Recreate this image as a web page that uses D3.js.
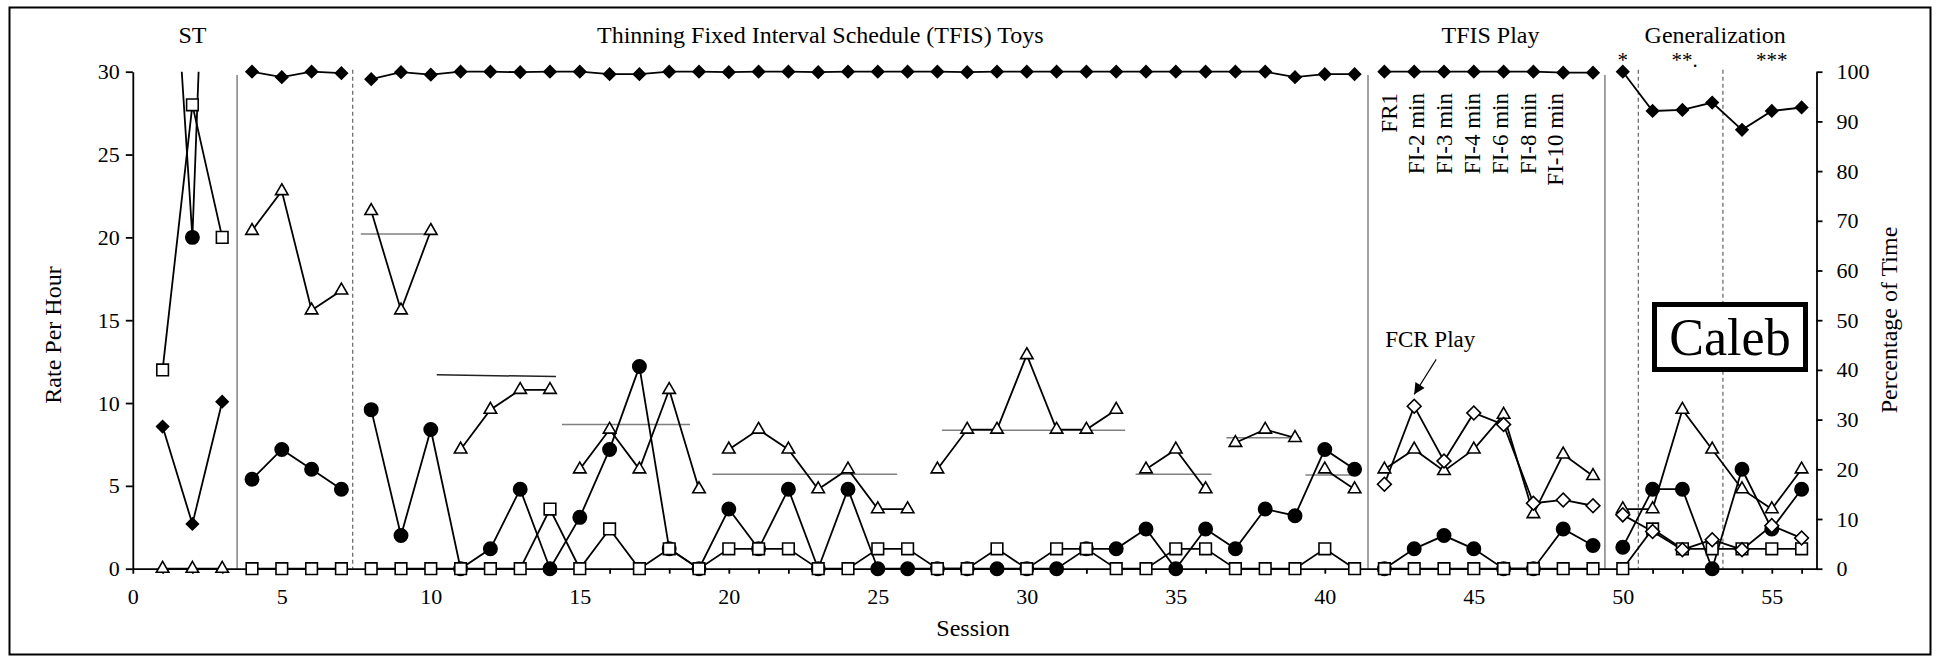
<!DOCTYPE html>
<html>
<head>
<meta charset="utf-8">
<script src="https://cdn.jsdelivr.net/npm/d3@7"></script>
<style>
  body { margin: 0; background: #fff; }
  svg text { font-family: "Liberation Serif", "Times New Roman", serif; fill: #000; }
</style>
</head>
<body>
<svg id="chart" width="1937" height="659"></svg>
<script>
// sessions 1..56
const sessions = d3.range(1, 57);

// rate per hour, open triangles
const triangleRate = [0, 0, 0, 20.4, 22.8, 15.6, 16.8, 21.6, 15.6, 20.4, 7.2, 9.6, 10.8, 10.8,
    6.0, 8.4, 6.0, 10.8, 4.8, 7.2, 8.4, 7.2, 4.8, 6.0, 3.6, 3.6, 6.0, 8.4, 8.4, 12.9, 8.4, 8.4, 9.6,
    6.0, 7.2, 4.8, 7.6, 8.4, 7.9, 6.0, 4.8, 6.0, 7.2, 5.9, 7.2, 9.3, 3.3, 6.9, 5.6,
    3.6, 3.6, 9.6, 7.2, 4.8, 3.6, 6.0];

// rate per hour, filled circles (sessions 1 and 3 run off the top)
const circleRate = [48, 20, 68, 5.4, 7.2, 6.0, 4.8, 9.6, 2.0, 8.4, 0, 1.2, 4.8, 0, 3.1, 7.2, 12.2,
    1.2, 0, 3.6, 1.2, 4.8, 0, 4.8, 0, 0, 0, 0, 0, 0, 0, 1.2, 1.2, 2.4, 0, 2.4, 1.2, 3.6, 3.2, 7.2, 6.0,
    0, 1.2, 2.0, 1.2, 0, 0, 2.4, 1.4, 1.3, 4.8, 4.8, 0, 6.0, 2.4, 4.8];

// rate per hour, open squares
const squareRate = [12, 28, 20, 0, 0, 0, 0, 0, 0, 0, 0, 0, 0, 3.6, 0, 2.4, 0, 1.2, 0, 1.2, 1.2, 1.2,
    0, 0, 1.2, 1.2, 0, 0, 1.2, 0, 1.2, 1.2, 0, 0, 1.2, 1.2, 0, 0, 0, 1.2, 0,
    0, 0, 0, 0, 0, 0, 0, 0, 0, 2.4, 1.2, 1.2, 1.2, 1.2, 1.2];

// FCR play, open diamonds
const playSessions = [42, 43, 44, 45, 46, 47, 48, 49, 50, 51, 52, 53, 54, 55, 56];
const fcrPlayRate = [5.1, 9.8, 6.5, 9.4, 8.7, 3.95, 4.15, 3.8, 3.25, 2.25, 1.15, 1.75, 1.15, 2.6, 1.85];

// percentage of time, filled diamonds (right axis)
const diamondPct = [28.6, 9.0, 33.6, 100, 98.9, 100, 99.7, 98.5, 99.9, 99.4, 100, 100, 99.9, 100,
    100, 99.5, 99.5, 100, 100, 99.9, 100, 100, 99.9, 100, 100, 100, 100, 99.9, 100, 100, 100, 100,
    100, 100, 100, 100, 100, 100, 98.9, 99.5, 99.5, 100, 100, 100, 100, 100, 100, 99.8, 99.8,
    100, 92.1, 92.3, 93.8, 88.3, 92.1, 92.8];

// phase change lines (session position), dashed = within-phase change
const phaseLines = [3.5, 7.38, 41.45, 49.4, 50.52, 53.36];
const phaseDashed = [false, true, false, false, true, true];
const phaseBreaks = [3.5, 7.38, 41.45, 49.4];
const triangleBreaks = [3.5, 7.38, 10.5, 14.5, 19.5, 26.5, 33.5, 36.5, 39.5, 41.45, 49.4];

// criterion lines for the thinning steps: [from, to, rate at start, rate at end]
const criterionLines = [[7.65, 10.15, 20.2, 20.2], [10.2, 14.2, 11.7, 11.6], [14.4, 18.7, 8.7, 8.7],
    [19.45, 25.65, 5.7, 5.7], [27.15, 33.3, 8.35, 8.35], [33.65, 36.2, 5.7, 5.7],
    [36.7, 39.2, 7.9, 7.9], [39.35, 41.1, 5.65, 5.65]];

const phaseNames = ["ST", "Thinning Fixed Interval Schedule (TFIS) Toys", "TFIS Play", "Generalization"];
const scheduleLabels = ["FR1", "FI-2 min", "FI-3 min", "FI-4 min", "FI-6 min", "FI-8 min", "FI-10 min"];
const genMarks = ["*", "**.", "***"];

const svg = d3.select("#chart");

const x = d3.scaleLinear().domain([0, 56.5]).range([132.8, 1816.5]);
const yRate = d3.scaleLinear().domain([0, 30]).range([568.7, 71.7]);
const yPct = d3.scaleLinear().domain([0, 100]).range([568.7, 71.7]);

// outer frame
svg.append("rect")
    .attr("x", 9.5).attr("y", 7.5)
    .attr("width", 1921).attr("height", 647)
    .attr("fill", "none")
    .attr("stroke", "#000")
    .attr("stroke-width", 2);

const defs = svg.append("defs");
defs.append("clipPath").attr("id", "plotClip")
    .append("rect")
    .attr("x", 0).attr("y", yRate(30))
    .attr("width", 1937).attr("height", 659);
defs.append("marker")
    .attr("id", "arrow")
    .attr("viewBox", "0 0 10 10")
    .attr("refX", 10).attr("refY", 5)
    .attr("markerWidth", 13).attr("markerHeight", 11)
    .attr("markerUnits", "userSpaceOnUse")
    .attr("orient", "auto")
    .append("path")
    .attr("d", "M0,0L10,5L0,10z")
    .attr("fill", "#000");

// phase lines
svg.selectAll(".phase")
    .data(phaseLines)
    .join("line")
    .attr("x1", d => x(d)).attr("x2", d => x(d))
    .attr("y1", (d, i) => phaseDashed[i] ? yRate(30) - 2 : yRate(29.8))
    .attr("y2", yRate(0))
    .attr("stroke", (d, i) => phaseDashed[i] ? "#555" : "#8a8a8a")
    .attr("stroke-width", (d, i) => phaseDashed[i] ? 1.1 : 1.6)
    .attr("stroke-dasharray", (d, i) => phaseDashed[i] ? "4,3" : null);

// criterion lines
svg.selectAll(".crit")
    .data(criterionLines)
    .join("line")
    .attr("x1", d => x(d[0])).attr("x2", d => x(d[1]))
    .attr("y1", d => yRate(d[2])).attr("y2", d => yRate(d[3]))
    .attr("stroke", (d, i) => i === 1 ? "#222" : "#808080")
    .attr("stroke-width", 1.5);

// axes
function styleAxis(g) {
    g.selectAll("path, line").attr("stroke", "#000").attr("stroke-width", 1.8);
    g.selectAll("text")
        .attr("font-family", "'Liberation Serif', 'Times New Roman', serif")
        .attr("font-size", 22)
        .attr("fill", "#000");
}

svg.append("g")
    .attr("transform", `translate(0,${yRate(0)})`)
    .call(d3.axisBottom(x).tickValues(d3.range(0, 57))
        .tickFormat(d => d % 5 === 0 ? d : "")
        .tickSize(5).tickSizeOuter(0).tickPadding(15))
    .call(styleAxis);

svg.append("g")
    .attr("transform", `translate(${x(0)},0)`)
    .call(d3.axisLeft(yRate).tickValues(d3.range(0, 31, 5))
        .tickSize(7).tickSizeOuter(0).tickPadding(6))
    .call(styleAxis);

svg.append("g")
    .attr("transform", `translate(${x(56.5)},0)`)
    .call(d3.axisRight(yPct).tickValues(d3.range(0, 101, 10))
        .tickSize(6).tickSizeOuter(0).tickPadding(14))
    .call(styleAxis);

// split a series wherever a phase break falls between two sessions
function segments(points, breaks) {
    const out = [];
    let cur = [];
    points.forEach((p, i) => {
        if (i > 0 && breaks.some(b => b > points[i - 1].s && b < p.s)) {
            out.push(cur);
            cur = [];
        }
        cur.push(p);
    });
    if (cur.length) out.push(cur);
    return out;
}

const series = [
    { sess: sessions, vals: circleRate, y: yRate, breaks: phaseBreaks, type: d3.symbolCircle, size: 140, fill: "#000", rot: 0, clip: true },
    { sess: sessions, vals: squareRate, y: yRate, breaks: phaseBreaks, type: d3.symbolSquare, size: 135, fill: "#fff", rot: 0 },
    { sess: sessions, vals: triangleRate, y: yRate, breaks: triangleBreaks, type: d3.symbolTriangle, size: 68, fill: "#fff", rot: 0 },
    { sess: playSessions, vals: fcrPlayRate, y: yRate, breaks: phaseBreaks, type: d3.symbolSquare, size: 95, fill: "#fff", rot: 45 },
    { sess: sessions, vals: diamondPct, y: yPct, breaks: phaseBreaks, type: d3.symbolSquare, size: 72, fill: "#000", rot: 45 }
];

const line = d3.line().x(d => x(d.s)).y(d => d.yv);

series.forEach(ser => {
    ser.points = ser.sess.map((s, i) => ({ s: s, v: ser.vals[i], yv: ser.y(ser.vals[i]) }));
    svg.append("g")
        .attr("clip-path", ser.clip ? "url(#plotClip)" : null)
        .selectAll("path")
        .data(segments(ser.points, ser.breaks))
        .join("path")
        .attr("d", line)
        .attr("fill", "none")
        .attr("stroke", "#000")
        .attr("stroke-width", 1.8);
});

series.forEach(ser => {
    svg.append("g")
        .attr("clip-path", ser.clip ? "url(#plotClip)" : null)
        .selectAll("path")
        .data(ser.points)
        .join("path")
        .attr("d", d3.symbol().type(ser.type).size(ser.size))
        .attr("transform", d => `translate(${x(d.s)},${d.yv}) rotate(${ser.rot})`)
        .attr("fill", ser.fill)
        .attr("stroke", "#000")
        .attr("stroke-width", 1.6);
});

// phase titles
const phaseCenters = [2.0, 23.07, 45.56, 53.1];
svg.selectAll(".phaseName")
    .data(phaseNames)
    .join("text")
    .attr("x", (d, i) => x(phaseCenters[i]))
    .attr("y", 43)
    .attr("text-anchor", "middle")
    .attr("font-size", 24)
    .text(d => d);

// schedule steps in the play phase, rotated
svg.selectAll(".sched")
    .data(scheduleLabels)
    .join("text")
    .attr("transform", (d, i) => `translate(${1396.5 + i * 27.8},93) rotate(-90)`)
    .attr("text-anchor", "end")
    .attr("font-size", 23)
    .text(d => d);

// generalization markers
const genAt = [50, 52, 55];
svg.selectAll(".gen")
    .data(genMarks)
    .join("text")
    .attr("x", (d, i) => x(genAt[i]) - (i === 1 ? 11 : 0))
    .attr("y", 67)
    .attr("text-anchor", (d, i) => i === 1 ? "start" : "middle")
    .attr("font-size", 21)
    .text(d => d);

// FCR Play annotation pointing at the first play diamond peak
const tipX = x(43), tipY = yRate(9.8) - 12;
svg.append("line")
    .attr("x1", tipX + 22).attr("y1", tipY - 35)
    .attr("x2", tipX).attr("y2", tipY)
    .attr("stroke", "#000")
    .attr("stroke-width", 1.1)
    .attr("marker-end", "url(#arrow)");
svg.append("text")
    .attr("x", tipX + 16).attr("y", 347)
    .attr("text-anchor", "middle")
    .attr("font-size", 23)
    .text("FCR Play");

// participant box
svg.append("rect")
    .attr("x", 1654.5).attr("y", 304.5)
    .attr("width", 151).attr("height", 65)
    .attr("fill", "#fff")
    .attr("stroke", "#000")
    .attr("stroke-width", 5);
svg.append("text")
    .attr("x", 1730).attr("y", 355)
    .attr("text-anchor", "middle")
    .attr("font-size", 52)
    .text("Caleb");

// axis titles
svg.append("text")
    .attr("x", 973).attr("y", 636)
    .attr("text-anchor", "middle")
    .attr("font-size", 24)
    .text("Session");
svg.append("text")
    .attr("transform", "translate(61,335) rotate(-90)")
    .attr("text-anchor", "middle")
    .attr("font-size", 24)
    .text("Rate Per Hour");
svg.append("text")
    .attr("transform", "translate(1897,320) rotate(-90)")
    .attr("text-anchor", "middle")
    .attr("font-size", 24)
    .text("Percentage of Time");
</script>
</body>
</html>
